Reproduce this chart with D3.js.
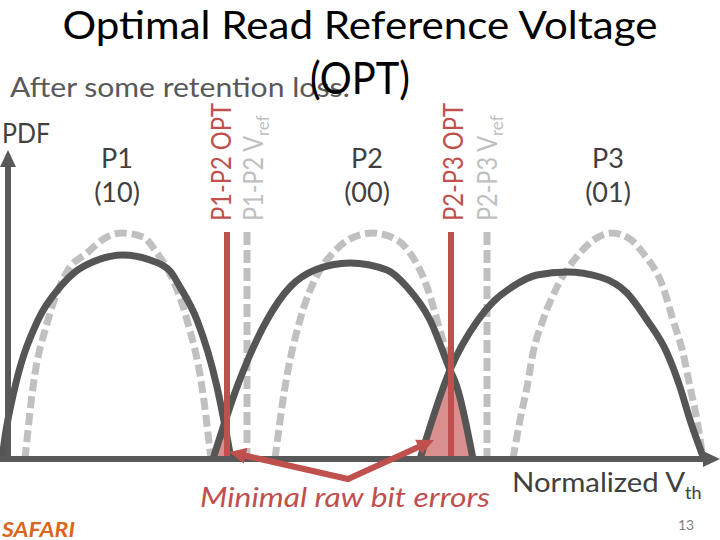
<!DOCTYPE html>
<html><head><meta charset="utf-8">
<script src="https://cdn.jsdelivr.net/npm/d3@7"></script>
<style>html,body{margin:0;padding:0;background:#fff;}svg{display:block;}text{font-family:Lato,'Open Sans',sans-serif;}</style>
</head><body><svg id="c" width="720" height="540"></svg>
<script>
// ---------- data ----------
const titleLines = ["Optimal Read Reference Voltage", "(OPT)"];
const subtitle = "After some retention loss:";
const yAxisLabel = "PDF";
const xAxisLabel = ["Normalized V", "th"];
const annotation = "Minimal raw bit errors";
const states = ["P1", "P2", "P3"];
const stateCodes = ["(10)", "(00)", "(01)"];
const stateLabelVth = [109, 359, 600];

// original (dashed) distributions: [Vth, PDF]
const p1Original = [[17,0],[25,72],[40,139],[60,189],[79,206],[99,222],[114,226],[135,222],[149,206],[160,189],[179,139],[194,72],[203,0]];
const p2Original = [[267,0],[277,72],[292,139],[312,189],[325,206],[340,219],[365,226],[389,219],[402,206],[419,172],[429,139],[445,72],[454,0]];
const p3Original = [[505,0],[512,39],[519,72],[525,106],[535,139],[549,172],[572,206],[587,220],[604,226],[622,220],[635,206],[655,172],[665,139],[675,106],[682,72],[689,39],[695,0]];

// after retention loss (solid) distributions
const p1Shifted = [[-6,0],[-3,22],[7,72],[30,139],[52,172],[67,187],[87,198],[115,204],[142,199],[162,188],[172,172],[189,139],[209,72],[219,22],[223,0]];
const p2Shifted = [[205,0],[229,72],[259,139],[282,172],[307,189],[342,196],[379,189],[399,172],[422,139],[442,89],[449,72],[465,0]];
const p3Shifted = [[412,0],[442,89],[470,139],[485,157],[504,172],[529,184],[559,187],[592,182],[619,166],[639,139],[659,106],[672,72],[682,39],[696,0]];

// overlap (raw bit error) regions
const overlap12 = [[205,0],[211,19],[216,35],[220,19],[223,0]];
const overlap23 = [[412,0],[427,44],[442,89],[449,72],[457,36],[465,0]];

// read reference voltages
const optVth = [219, 443];
const optLabels = ["P1-P2 OPT", "P2-P3 OPT"];
const vrefVth = [239, 479];
const vrefLabels = ["P1-P2 V", "P2-P3 V"];
const refLineTop = 227;

// annotation arrows: vertex and tips [Vth, PDF]
const arrowVertex = [340, -20];
const arrowTips = [[221, 7], [426, 19]];

// ---------- drawing ----------
const svg = d3.select("#c");
const x = d3.scaleLinear().domain([0, 700]).range([8, 708]);
const y = d3.scaleLinear().domain([0, 300]).range([459, 159]);

const axisCol = "#595959", red = "#c0504d", gray = "#c0c0c0", txt = "#404040";
const line = d3.line().x(d => x(d[0])).y(d => y(d[1])).curve(d3.curveMonotoneX);
const poly = d3.line().x(d => x(d[0])).y(d => y(d[1])).curve(d3.curveLinear);

// vertical Vref dashed lines (behind)
svg.selectAll(".vref").data(vrefVth).join("line")
  .attr("x1", d => x(d)).attr("x2", d => x(d))
  .attr("y1", y(refLineTop)).attr("y2", y(0))
  .attr("stroke", "#bfbfbf").attr("stroke-width", 7).attr("stroke-dasharray", "13,5");

// dashed original curves
svg.selectAll(".orig").data([p1Original, p2Original, p3Original]).join("path")
  .attr("d", line).attr("fill", "none").attr("stroke", gray)
  .attr("stroke-width", 7).attr("stroke-dasharray", "12,5");

// overlap fills
svg.selectAll(".ov").data([overlap12, overlap23]).join("path")
  .attr("d", d => poly(d) + "Z").attr("fill", "#d98f8d");

// solid shifted curves
svg.selectAll(".shift").data([p1Shifted, p2Shifted, p3Shifted]).join("path")
  .attr("d", line).attr("fill", "none").attr("stroke", "#555555")
  .attr("stroke-width", 7);

// OPT red lines
svg.selectAll(".opt").data(optVth).join("line")
  .attr("x1", d => x(d)).attr("x2", d => x(d))
  .attr("y1", y(refLineTop)).attr("y2", y(0))
  .attr("stroke", red).attr("stroke-width", 6);

// axes
const xAxis = d3.axisBottom(x).tickValues([]).tickSizeOuter(0);
const gx = svg.append("g").attr("transform", `translate(0,${y(0)})`).call(xAxis);
gx.select(".domain").attr("stroke", axisCol).attr("stroke-width", 6).attr("d", `M${x(-8)},0H${x(697)}`);
svg.append("path").attr("d", `M${x(695)},${y(0)-8}L${x(712)},${y(0)}L${x(695)},${y(0)+8}Z`).attr("fill", axisCol);
const yAxis = d3.axisLeft(y).tickValues([]).tickSizeOuter(0);
const gy = svg.append("g").attr("transform", `translate(${x(0)},0)`).call(yAxis);
gy.select(".domain").attr("stroke", axisCol).attr("stroke-width", 6).attr("d", `M0,${y(0)+3}V${y(294)}`);
svg.append("path").attr("d", `M${x(0)-8},${y(292)}L${x(0)},${y(309)}L${x(0)+8},${y(292)}Z`).attr("fill", axisCol);

// annotation arrows
const vx = x(arrowVertex[0]), vy = y(arrowVertex[1]);
arrowTips.forEach(t => {
  const tx = x(t[0]), ty = y(t[1]);
  const ang = Math.atan2(ty - vy, tx - vx);
  const L = 17, W = 8;
  const bx = tx - L * Math.cos(ang), by = ty - L * Math.sin(ang);
  svg.append("line").attr("x1", vx).attr("y1", vy).attr("x2", bx).attr("y2", by)
    .attr("stroke", red).attr("stroke-width", 6).attr("stroke-linecap", "round");
  const px = -Math.sin(ang) * W, py = Math.cos(ang) * W;
  svg.append("path").attr("d", `M${tx},${ty}L${bx+px},${by+py}L${bx-px},${by-py}Z`).attr("fill", red);
});

// ---------- texts ----------
svg.append("text").attr("x", 360).attr("y", 39).attr("text-anchor", "middle")
  .attr("font-size", 39).attr("fill", "#000").attr("textLength", 595).attr("lengthAdjust", "spacingAndGlyphs")
  .text(titleLines[0]);
svg.append("text").attr("x", 10).attr("y", 97)
  .attr("font-size", 27).attr("fill", "#595959").attr("textLength", 340).attr("lengthAdjust", "spacingAndGlyphs")
  .text(subtitle);
svg.append("text").attr("x", 360).attr("y", 94).attr("text-anchor", "middle")
  .attr("font-size", 45).attr("fill", "#000").attr("textLength", 100).attr("lengthAdjust", "spacingAndGlyphs")
  .text(titleLines[1]);

svg.append("text").attr("x", 2).attr("y", 143).attr("font-size", 27).attr("fill", txt)
  .attr("textLength", 48).attr("lengthAdjust", "spacingAndGlyphs").text(yAxisLabel);

states.forEach((s, i) => {
  svg.append("text").attr("x", x(stateLabelVth[i])).attr("y", 168).attr("text-anchor", "middle")
    .attr("font-size", 27).attr("fill", txt).text(s);
  svg.append("text").attr("x", x(stateLabelVth[i])).attr("y", 202).attr("text-anchor", "middle")
    .attr("font-size", 27).attr("fill", txt).text(stateCodes[i]);
});

// vertical labels
const optBase = [231, 463];
optLabels.forEach((l, i) => {
  svg.append("text").attr("transform", `translate(${optBase[i]},221) rotate(-90)`)
    .attr("font-size", 27).attr("fill", red).attr("textLength", 118).attr("lengthAdjust", "spacingAndGlyphs").text(l);
});
const vrefBase = [263, 497];
vrefLabels.forEach((l, i) => {
  const t = svg.append("text").attr("transform", `translate(${vrefBase[i]},221) rotate(-90)`)
    .attr("font-size", 27).attr("fill", "#bfbfbf");
  t.append("tspan").attr("textLength", 85).attr("lengthAdjust", "spacingAndGlyphs").text(l);
  t.append("tspan").attr("font-size", 17).attr("dy", 6).text("ref");
});

// x label
const xl = svg.append("text").attr("x", 512).attr("y", 492).attr("font-size", 27).attr("fill", txt);
xl.append("tspan").attr("textLength", 173).attr("lengthAdjust", "spacingAndGlyphs").text(xAxisLabel[0]);
xl.append("tspan").attr("font-size", 18).attr("dy", 7).text(xAxisLabel[1]);

svg.append("text").attr("x", 200).attr("y", 507).attr("font-size", 27).attr("font-style", "italic")
  .attr("fill", red).attr("textLength", 290).attr("lengthAdjust", "spacingAndGlyphs").text(annotation);

svg.append("text").attr("x", 2).attr("y", 537).attr("font-size", 21).attr("font-weight", "bold").attr("font-style", "italic")
  .attr("fill", "#d9661f").attr("textLength", 73).attr("lengthAdjust", "spacingAndGlyphs").text("SAFARI");
svg.append("text").attr("x", 678).attr("y", 530).attr("font-size", 14).attr("fill", "#7f7f7f").text("13");
</script></body></html>
